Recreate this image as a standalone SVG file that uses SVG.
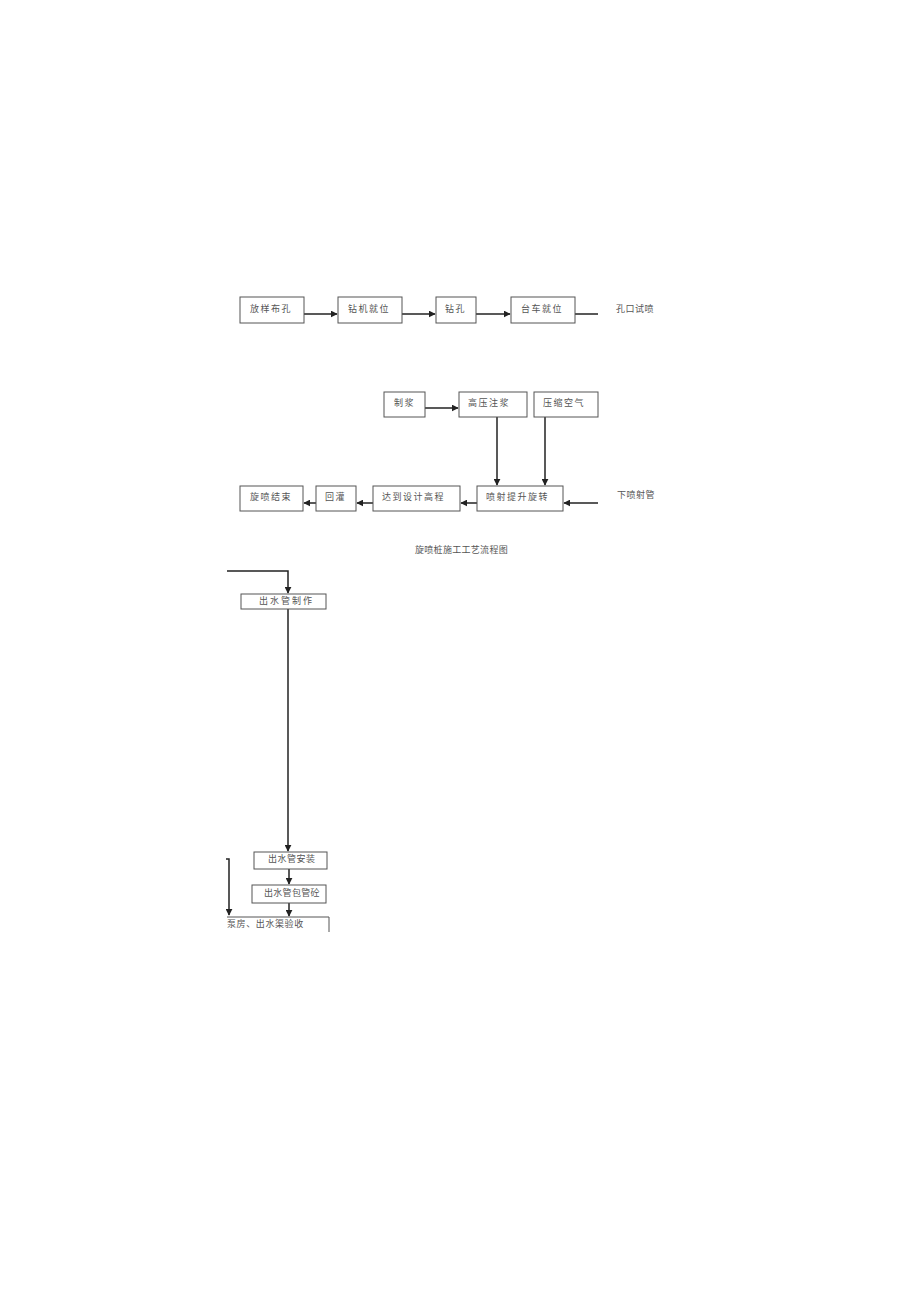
<svg xmlns="http://www.w3.org/2000/svg" width="920" height="1301" viewBox="0 0 920 1301">
<defs>
<style>
.box{fill:#fff;stroke:#555;stroke-width:1}
.ln{fill:none;stroke:#222;stroke-width:1.5}
.t{font-family:"Liberation Sans","Noto Sans CJK SC",sans-serif;font-size:9px;fill:#555;letter-spacing:1.5px}
</style>
<marker id="ah" viewBox="0 0 10 10" refX="9" refY="5" markerWidth="7" markerHeight="7" orient="auto" markerUnits="userSpaceOnUse">
<path d="M0,0 L10,5 L0,10 Z" fill="#222"/>
</marker>
</defs>
<rect width="920" height="1301" fill="#fff"/>
<g id="connectors">
<line class="ln" x1="304" y1="314" x2="337" y2="314" marker-end="url(#ah)"/>
<line class="ln" x1="402" y1="314" x2="435" y2="314" marker-end="url(#ah)"/>
<line class="ln" x1="476" y1="314" x2="510" y2="314" marker-end="url(#ah)"/>
<line class="ln" x1="575" y1="314" x2="598" y2="314"/>
<line class="ln" x1="425" y1="408" x2="458" y2="408" marker-end="url(#ah)"/>
<line class="ln" x1="497" y1="417" x2="497" y2="485" marker-end="url(#ah)"/>
<line class="ln" x1="545" y1="417" x2="545" y2="485" marker-end="url(#ah)"/>
<line class="ln" x1="598" y1="503" x2="564" y2="503" marker-end="url(#ah)"/>
<line class="ln" x1="477" y1="503" x2="461" y2="503" marker-end="url(#ah)"/>
<line class="ln" x1="373" y1="503" x2="357" y2="503" marker-end="url(#ah)"/>
<line class="ln" x1="316" y1="503" x2="304" y2="503" marker-end="url(#ah)"/>
<polyline class="ln" points="227,571 288,571 288,593" marker-end="url(#ah)"/>
<line class="ln" x1="288" y1="609" x2="288" y2="851" marker-end="url(#ah)"/>
<line class="ln" x1="289" y1="869" x2="289" y2="884" marker-end="url(#ah)"/>
<line class="ln" x1="289" y1="903" x2="289" y2="916" marker-end="url(#ah)"/>
<polyline class="ln" points="226,859 229,859 229,915" marker-end="url(#ah)"/>
</g>
<g id="n1"><rect class="box" x="240" y="297" width="64" height="26"/><text class="t" x="250" y="312">放样布孔</text></g>
<g id="n2"><rect class="box" x="338" y="297" width="64" height="26"/><text class="t" x="348" y="312">钻机就位</text></g>
<g id="n3"><rect class="box" x="436" y="297" width="40" height="26"/><text class="t" x="445" y="312">钻孔</text></g>
<g id="n4"><rect class="box" x="511" y="297" width="64" height="26"/><text class="t" x="521" y="312">台车就位</text></g>
<g id="n5"><text class="t" x="616" y="312" style="letter-spacing:0.5px">孔口试喷</text></g>
<g id="n6"><rect class="box" x="384" y="392" width="41" height="25"/><text class="t" x="394" y="406">制浆</text></g>
<g id="n7"><rect class="box" x="459" y="392" width="68" height="25"/><text class="t" x="468" y="406">高压注浆</text></g>
<g id="n8"><rect class="box" x="534" y="392" width="64" height="25"/><text class="t" x="543" y="406">压缩空气</text></g>
<g id="n9"><rect class="box" x="477" y="486" width="86" height="25"/><text class="t" x="486" y="500">喷射提升旋转</text></g>
<g id="n10"><text class="t" x="617" y="498" style="letter-spacing:0.5px">下喷射管</text></g>
<g id="n11"><rect class="box" x="373" y="486" width="87" height="25"/><text class="t" x="382" y="500">达到设计高程</text></g>
<g id="n12"><rect class="box" x="316" y="486" width="40" height="25"/><text class="t" x="325" y="500">回灌</text></g>
<g id="n13"><rect class="box" x="240" y="486" width="63" height="25"/><text class="t" x="250" y="500">旋喷结束</text></g>
<g id="title"><text class="t" x="415" y="553" style="letter-spacing:0.3px">旋喷桩施工工艺流程图</text></g>
<g id="n14"><rect class="box" x="241" y="594" width="85" height="15"/><text class="t" x="259" y="604" style="letter-spacing:2px">出水管制作</text></g>
<g id="n15"><rect class="box" x="254" y="852" width="73" height="17"/><text class="t" x="268" y="862" style="letter-spacing:0.5px">出水管安装</text></g>
<g id="n16"><rect class="box" x="252" y="885" width="74" height="18"/><text class="t" x="264" y="896" style="letter-spacing:0.3px">出水管包管砼</text></g>
<g id="n17"><polyline class="box" style="fill:none" points="227,917 329,917 329,932"/><text class="t" x="227" y="927" style="letter-spacing:0.6px">泵房、出水渠验收</text></g>
</svg>
